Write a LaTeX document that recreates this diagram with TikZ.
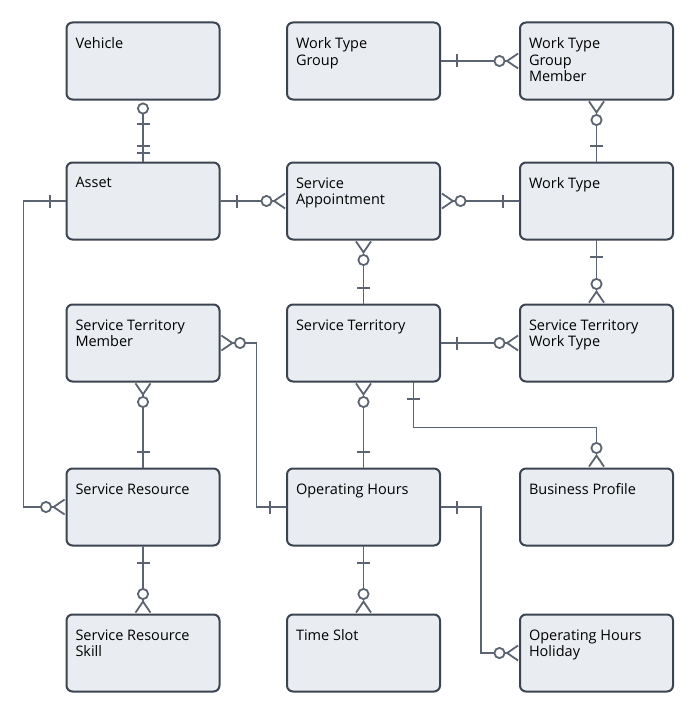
\documentclass[tikz,border=0pt]{standalone}
\usepackage{fontspec}
\setmainfont{Open Sans}
\usetikzlibrary{arrows.meta,calc}
\definecolor{boxfill}{HTML}{E9ECF0}
\definecolor{boxline}{HTML}{3C4452}
\definecolor{linkline}{HTML}{5C6471}
\tikzset{
	entity/.style={draw=boxline, fill=boxfill, line width=2pt, rounded corners=6pt,
		inner sep=9pt, minimum width=153pt, minimum height=77pt},
	link/.style={draw=linkline, line width=1.8pt},
	crowfoot/.tip={Straight Barb[reversed,length=11pt,width=15pt,line width=1.8pt]},
	ring/.tip={Circle[open,length=12pt,width=12pt,fill=white,line width=1.8pt]},
	bar/.tip={Bar[width=13pt,line width=2pt]},
	one/.tip={bar[sep=15pt] Bar[width=0pt,line width=0pt,sep=0pt]},
	zero many/.tip={ring[sep=0pt] crowfoot},
}
\newcommand{\etext}[1]{\parbox[t][57pt][t]{135pt}{\vspace*{5pt}\fontsize{14.5}{16.5}\selectfont\raggedright #1}}
\begin{document}
\begin{tikzpicture}[x=1pt,y=-1pt]
\useasboundingbox (0,0) rectangle (700,717);
% entities
\node[entity] (vehicle) at (143,61)    {\etext{Vehicle}};
\node[entity] (wtg)     at (363.5,61)  {\etext{Work Type\\Group}};
\node[entity] (wtgm)    at (596.5,61)  {\etext{Work Type\\Group\\Member}};
\node[entity] (asset)   at (143,201)   {\etext{Asset}};
\node[entity] (sa)      at (363.5,201) {\etext{Service\\Appointment}};
\node[entity] (wt)      at (596.5,201) {\etext{Work Type}};
\node[entity] (stm)     at (143,343)   {\etext{Service Territory\\Member}};
\node[entity] (st)      at (363.5,343) {\etext{Service Territory}};
\node[entity] (stwt)    at (596.5,343) {\etext{Service Territory\\Work Type}};
\node[entity] (sr)      at (143,507)   {\etext{Service Resource}};
\node[entity] (oh)      at (363.5,507) {\etext{Operating Hours}};
\node[entity] (bp)      at (596.5,507) {\etext{Business Profile}};
\node[entity] (srs)     at (143,653)   {\etext{Service Resource\\Skill}};
\node[entity] (ts)      at (363.5,653) {\etext{Time Slot}};
\node[entity] (ohh)     at (596.5,653) {\etext{Operating Hours\\Holiday}};
% relations
\draw[link, {ring[sep=2pt] bar[sep=8pt] Bar[width=0pt,line width=0pt]}-{bar[sep=5pt] bar[sep=8pt] Bar[width=0pt,line width=0pt]}] (vehicle) -- (asset);
\draw[link, one-zero many] (wtg) -- (wtgm);
\draw[link, zero many-one] (wtgm) -- (wt);
\draw[link, one-zero many] (asset) -- (sa);
\draw[link, zero many-one] (sa) -- (wt);
\draw[link, zero many-one] (sa) -- (st);
\draw[link, one-zero many] (wt) -- (stwt);
\draw[link, one-zero many] (st) -- (stwt);
\draw[link, zero many-one] (stm.east) -- ++(36,0) |- (oh.west);
\draw[link, zero many-one] (stm) -- (sr);
\draw[link, zero many-one] (st) -- (oh);
\draw[link, one-zero many] ([xshift=50pt]st.south) -- ++(0,45) -| (bp.north);
\draw[link, one-zero many] (asset.west) -- ++(-42,0) |- (sr.west);
\draw[link, one-zero many] (sr) -- (srs);
\draw[link, one-zero many] (oh) -- (ts);
\draw[link, one-zero many] (oh.east) -- ++(40,0) |- (ohh.west);
\end{tikzpicture}
\end{document}
